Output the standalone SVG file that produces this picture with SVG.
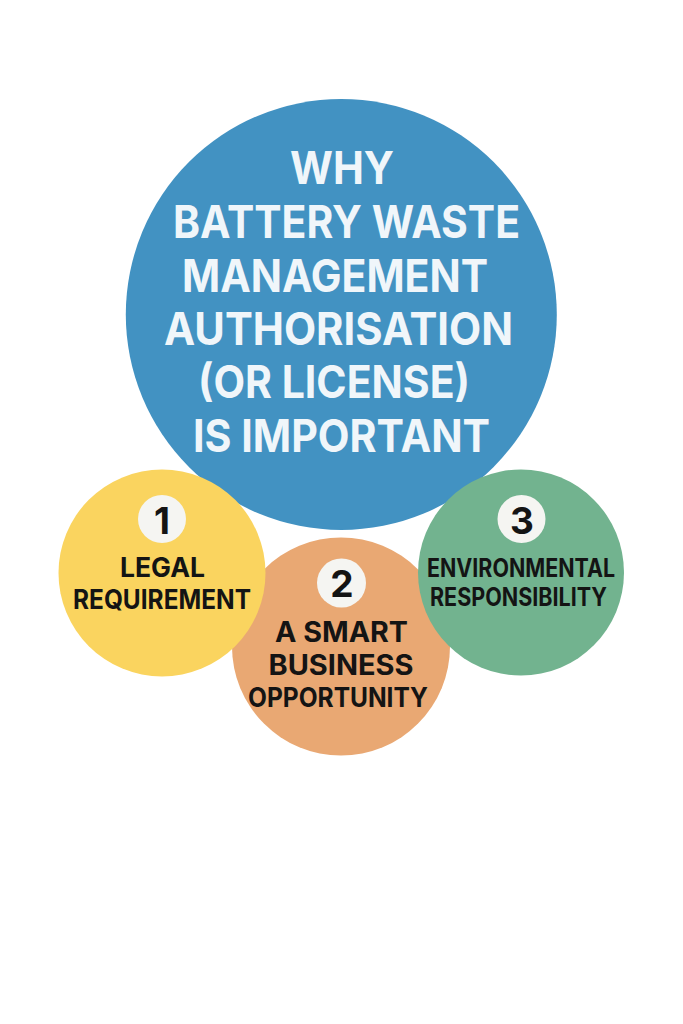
<svg xmlns="http://www.w3.org/2000/svg" width="683" height="1024" viewBox="0 0 683 1024">
<style>
.t{font-family:Inter,"Liberation Sans",sans-serif;font-weight:700;text-anchor:middle}
.h{fill:#f0f6fa;font-size:45px}
.b{fill:#141414;font-size:27px}
.m{fill:#141414;font-size:28px}
.s{fill:#141414;font-size:25px}
.n{fill:#141414;font-size:37px}
.d{fill:#f5f5f2}
</style>
<rect width="683" height="1024" fill="#ffffff"/>
<g id="node-main"><circle cx="341.300" cy="314.500" r="215.500" fill="#4292c2"/>
<text class="t h" x="342" y="184" textLength="104" lengthAdjust="spacingAndGlyphs">WHY</text>
<text class="t h" x="346.500" y="238" textLength="347" lengthAdjust="spacingAndGlyphs">BATTERY WASTE</text>
<text class="t h" x="335" y="292" textLength="306" lengthAdjust="spacingAndGlyphs">MANAGEMENT</text>
<text class="t h" x="338.500" y="345" textLength="349" lengthAdjust="spacingAndGlyphs">AUTHORISATION</text>
<text class="t h" x="334" y="398" textLength="272" lengthAdjust="spacingAndGlyphs">(OR LICENSE)</text>
<text class="t h" x="341.500" y="452" textLength="297" lengthAdjust="spacingAndGlyphs">IS IMPORTANT</text></g>
<g id="node-orange"><circle cx="341" cy="646.500" r="109" fill="#e9a873"/>
<circle class="d" cx="341.500" cy="583" r="24.500"/><text class="t n" x="342" y="597">2</text>
<text class="t m" x="341.500" y="642" textLength="133" lengthAdjust="spacingAndGlyphs">A SMART</text>
<text class="t m" x="341" y="675" textLength="145" lengthAdjust="spacingAndGlyphs">BUSINESS</text>
<text class="t b" x="338" y="707" textLength="180" lengthAdjust="spacingAndGlyphs">OPPORTUNITY</text></g>
<g id="node-yellow"><circle cx="162" cy="573" r="103.500" fill="#fad45f"/>
<circle class="d" cx="162" cy="519" r="24"/><text class="t n" x="162" y="534">1</text>
<text class="t b" x="162.500" y="577" textLength="85" lengthAdjust="spacingAndGlyphs">LEGAL</text>
<text class="t b" x="162" y="609" textLength="178" lengthAdjust="spacingAndGlyphs">REQUIREMENT</text></g>
<g id="node-green"><circle cx="521" cy="572.500" r="103" fill="#72b38f"/>
<circle class="d" cx="521.500" cy="519" r="24"/><text class="t n" x="522" y="534">3</text>
<text class="t s" x="521" y="577" textLength="188" lengthAdjust="spacingAndGlyphs">ENVIRONMENTAL</text>
<text class="t s" x="518.500" y="606" textLength="177" lengthAdjust="spacingAndGlyphs">RESPONSIBILITY</text></g>
</svg>
